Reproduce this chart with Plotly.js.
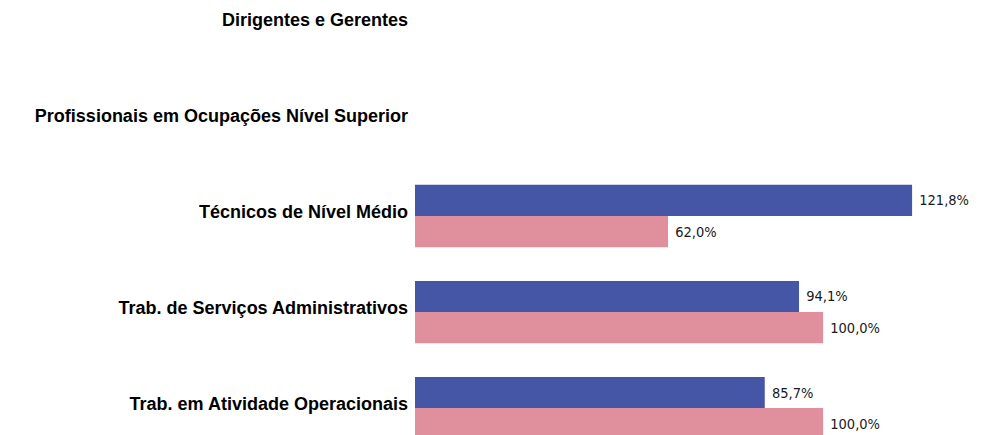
<!DOCTYPE html>
<html>
<head>
<meta charset="utf-8">
<script src="https://cdn.plot.ly/plotly-3.0.1.min.js"></script>
<style>html,body{margin:0;padding:0;background:#fff;}#chart{width:988px;height:435px;}</style>
</head>
<body>
<div id="chart"></div>
<script>
var categories = ["Dirigentes e Gerentes", "Profissionais em Ocupações Nível Superior", "Técnicos de Nível Médio", "Trab. de Serviços Administrativos", "Trab. em Atividade Operacionais"];
var seriesA = [null, null, 121.8, 94.1, 85.7];
var seriesB = [null, null, 62.0, 100.0, 100.0];

var labelFont = {family: "DejaVu Sans Condensed, Tahoma, sans-serif", size: 14.5, color: "#1a1a1a"};
var traces = [
  {type: "bar", orientation: "h", y: categories, x: seriesA, marker: {color: "#4556a7"},
   texttemplate: " %{x:.1f}%", textposition: "outside", textfont: labelFont, constraintext: "none", cliponaxis: false, hoverinfo: "skip"},
  {type: "bar", orientation: "h", y: categories, x: seriesB, marker: {color: "#e0909d"},
   texttemplate: " %{x:.1f}%", textposition: "outside", textfont: labelFont, constraintext: "none", cliponaxis: false, hoverinfo: "skip"}
];
var layout = {
  width: 988, height: 435,
  margin: {l: 415, r: 0, t: 0, b: 0},
  paper_bgcolor: "#fff", plot_bgcolor: "#fff",
  showlegend: false,
  separators: ",.",
  barmode: "group", bargap: 0.35, bargroupgap: 0,
  xaxis: {range: [0, 140.4], visible: false, showgrid: false, zeroline: false},
  yaxis: {type: "category", range: [4.28, -0.25], showgrid: false, zeroline: false, showline: false, ticks: "",
          tickfont: {family: "Liberation Sans, Arial, sans-serif", size: 18, color: "#000", weight: "bold"},
          ticklabelstandoff: 6, ticklabelshift: 4}
};
Plotly.newPlot("chart", traces, layout, {displayModeBar: false, staticPlot: true});
</script>
</body>
</html>
